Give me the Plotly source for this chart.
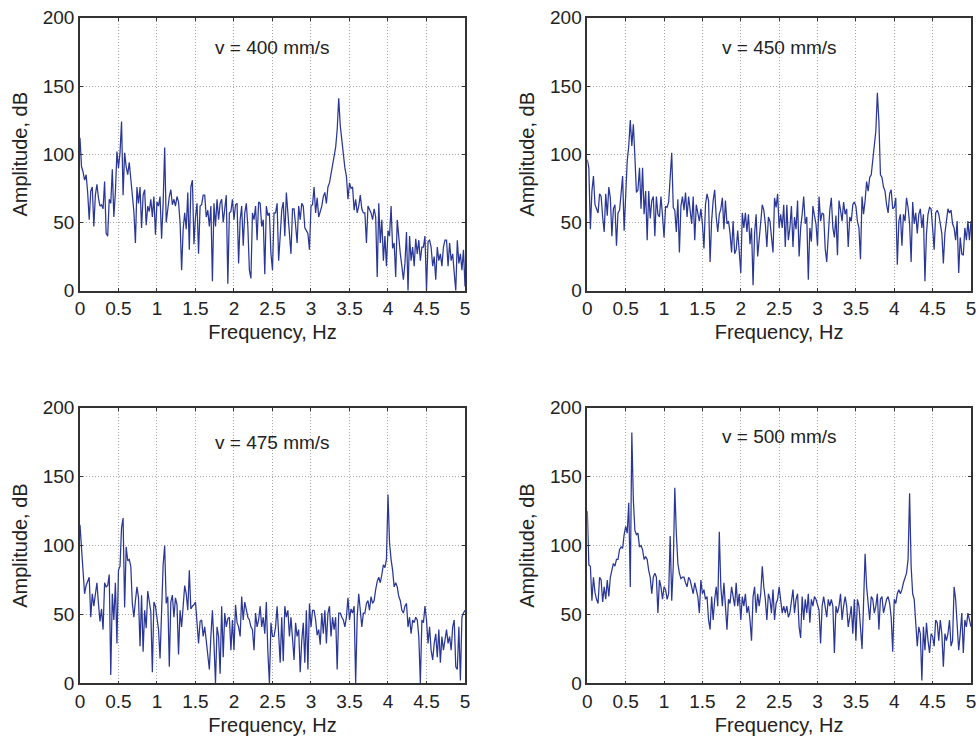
import plotly.graph_objects as go

# Frequency axis (Hz), shared by all four spectra
freq = [
    0.00, 0.02, 0.04, 0.06, 0.08, 0.10, 0.12, 0.14, 0.16, 0.18,
    0.20, 0.22, 0.24, 0.26, 0.28, 0.30, 0.32, 0.34, 0.36, 0.38,
    0.40, 0.42, 0.44, 0.46, 0.48, 0.50, 0.52, 0.54, 0.56, 0.58,
    0.60, 0.62, 0.64, 0.66, 0.68, 0.70, 0.72, 0.74, 0.76, 0.78,
    0.80, 0.82, 0.84, 0.86, 0.88, 0.90, 0.92, 0.94, 0.96, 0.98,
    1.00, 1.02, 1.04, 1.06, 1.08, 1.10, 1.12, 1.14, 1.16, 1.18,
    1.20, 1.22, 1.24, 1.26, 1.28, 1.30, 1.32, 1.34, 1.36, 1.38,
    1.40, 1.42, 1.44, 1.46, 1.48, 1.50, 1.52, 1.54, 1.56, 1.58,
    1.60, 1.62, 1.64, 1.66, 1.68, 1.70, 1.72, 1.74, 1.76, 1.78,
    1.80, 1.82, 1.84, 1.86, 1.88, 1.90, 1.92, 1.94, 1.96, 1.98,
    2.00, 2.02, 2.04, 2.06, 2.08, 2.10, 2.12, 2.14, 2.16, 2.18,
    2.20, 2.22, 2.24, 2.26, 2.28, 2.30, 2.32, 2.34, 2.36, 2.38,
    2.40, 2.42, 2.44, 2.46, 2.48, 2.50, 2.52, 2.54, 2.56, 2.58,
    2.60, 2.62, 2.64, 2.66, 2.68, 2.70, 2.72, 2.74, 2.76, 2.78,
    2.80, 2.82, 2.84, 2.86, 2.88, 2.90, 2.92, 2.94, 2.96, 2.98,
    3.00, 3.02, 3.04, 3.06, 3.08, 3.10, 3.12, 3.14, 3.16, 3.18,
    3.20, 3.22, 3.24, 3.26, 3.28, 3.30, 3.32, 3.34, 3.36, 3.38,
    3.40, 3.42, 3.44, 3.46, 3.48, 3.50, 3.52, 3.54, 3.56, 3.58,
    3.60, 3.62, 3.64, 3.66, 3.68, 3.70, 3.72, 3.74, 3.76, 3.78,
    3.80, 3.82, 3.84, 3.86, 3.88, 3.90, 3.92, 3.94, 3.96, 3.98,
    4.00, 4.02, 4.04, 4.06, 4.08, 4.10, 4.12, 4.14, 4.16, 4.18,
    4.20, 4.22, 4.24, 4.26, 4.28, 4.30, 4.32, 4.34, 4.36, 4.38,
    4.40, 4.42, 4.44, 4.46, 4.48, 4.50, 4.52, 4.54, 4.56, 4.58,
    4.60, 4.62, 4.64, 4.66, 4.68, 4.70, 4.72, 4.74, 4.76, 4.78,
    4.80, 4.82, 4.84, 4.86, 4.88, 4.90, 4.92, 4.94, 4.96, 4.98,
    5.00,
]

# Amplitude (dB)
amp_400 = [
    112, 91, 87, 81, 85, 72, 52, 73, 76, 47,
    70, 78, 68, 62, 63, 60, 80, 42, 40, 67,
    64, 89, 54, 72, 102, 90, 101, 124, 70, 101,
    91, 85, 94, 80, 70, 58, 35, 76, 64, 76,
    46, 70, 74, 48, 62, 58, 67, 54, 69, 41,
    65, 62, 69, 38, 64, 105, 50, 62, 69, 74,
    63, 67, 62, 69, 65, 50, 15, 45, 57, 45,
    72, 30, 76, 81, 34, 54, 64, 27, 62, 63,
    70, 70, 54, 59, 47, 62, 7, 64, 47, 67,
    52, 64, 67, 50, 62, 70, 5, 57, 58, 67,
    52, 63, 64, 20, 52, 62, 33, 57, 64, 47,
    15, 9, 57, 52, 62, 37, 65, 64, 47, 52,
    12, 62, 55, 57, 27, 15, 57, 57, 64, 22,
    40, 59, 65, 40, 72, 55, 40, 27, 60, 60,
    48, 35, 62, 52, 64, 62, 46, 44, 42, 30,
    62, 63, 76, 57, 68, 54, 58, 62, 69, 72,
    64, 76, 79, 85, 91, 97, 105, 118, 141, 121,
    110, 100, 90, 84, 67, 79, 75, 76, 59, 67,
    57, 62, 70, 60, 57, 57, 35, 62, 59, 57,
    52, 60, 54, 10, 64, 35, 52, 22, 40, 18,
    44, 40, 62, 31, 35, 10, 52, 37, 27, 18,
    8, 20, 43, 0, 40, 22, 32, 18, 38, 27,
    37, 22, 32, 32, 40, 0, 36, 37, 32, 18,
    25, 8, 32, 22, 27, 18, 32, 37, 37, 18,
    35, 22, 27, 13, 0, 37, 20, 27, 15, 30, 3,
]

amp_450 = [
    96, 90, 45, 73, 84, 63, 60, 57, 71, 69,
    54, 43, 71, 55, 76, 68, 40, 60, 63, 33,
    57, 59, 71, 84, 44, 69, 95, 106, 125, 106,
    122, 98, 72, 74, 90, 60, 90, 56, 73, 37,
    73, 53, 66, 69, 40, 69, 56, 54, 69, 55,
    39, 62, 61, 65, 85, 101, 61, 59, 43, 67,
    28, 62, 69, 59, 72, 54, 69, 61, 49, 69,
    37, 63, 57, 51, 60, 49, 31, 63, 71, 66,
    21, 51, 66, 74, 54, 43, 56, 60, 68, 45,
    66, 49, 51, 42, 28, 51, 27, 30, 44, 28,
    13, 57, 46, 57, 43, 56, 34, 46, 4, 42,
    56, 25, 37, 54, 63, 59, 49, 32, 54, 51,
    39, 28, 68, 61, 71, 46, 56, 46, 63, 32,
    63, 37, 46, 62, 32, 54, 45, 66, 25, 46,
    56, 69, 49, 54, 8, 46, 36, 62, 55, 49,
    33, 69, 51, 57, 56, 31, 21, 42, 59, 68,
    46, 39, 55, 26, 66, 59, 51, 65, 56, 60,
    32, 54, 51, 63, 65, 62, 51, 46, 23, 69,
    56, 66, 80, 73, 83, 85, 95, 103, 117, 145,
    124, 85, 83, 76, 73, 63, 57, 71, 74, 60,
    61, 68, 19, 51, 56, 33, 56, 51, 68, 61,
    49, 21, 65, 49, 57, 42, 56, 60, 46, 56,
    7, 42, 56, 61, 60, 46, 30, 57, 59, 56,
    49, 42, 20, 42, 51, 60, 57, 59, 49, 46,
    37, 51, 13, 39, 27, 26, 46, 37, 51, 37, 51,
]

amp_475 = [
    115, 97, 82, 65, 71, 75, 77, 48, 65, 56,
    63, 73, 58, 45, 54, 39, 73, 70, 71, 79,
    6, 65, 46, 73, 29, 82, 85, 113, 120, 55,
    99, 89, 90, 85, 58, 48, 60, 70, 62, 27,
    64, 23, 53, 40, 67, 60, 52, 8, 59, 56,
    48, 39, 18, 60, 86, 100, 58, 63, 12, 59,
    64, 48, 62, 57, 21, 53, 41, 56, 71, 65,
    53, 82, 54, 56, 57, 59, 44, 29, 45, 46,
    34, 41, 31, 22, 10, 34, 53, 29, 0, 41,
    34, 7, 56, 19, 51, 41, 47, 48, 24, 46,
    24, 57, 44, 41, 34, 63, 46, 59, 53, 48,
    46, 41, 39, 24, 51, 41, 46, 56, 41, 48,
    36, 59, 23, 0, 44, 34, 34, 41, 56, 39,
    15, 48, 16, 56, 48, 53, 34, 48, 29, 17,
    44, 34, 39, 8, 31, 44, 15, 53, 10, 58,
    41, 53, 53, 46, 35, 39, 28, 51, 36, 53,
    29, 51, 56, 34, 48, 39, 48, 10, 51, 51,
    48, 46, 41, 48, 62, 46, 54, 51, 56, 0,
    48, 65, 53, 41, 51, 51, 58, 60, 53, 63,
    58, 60, 68, 74, 77, 73, 79, 86, 84, 90,
    137, 102, 90, 82, 70, 73, 70, 63, 60, 53,
    51, 56, 58, 41, 48, 36, 46, 44, 48, 46,
    34, 0, 46, 44, 56, 46, 29, 41, 24, 17,
    29, 36, 19, 39, 15, 34, 24, 31, 39, 29,
    34, 24, 41, 46, 12, 10, 41, 2, 48, 51, 53,
]

amp_500 = [
    125, 86, 85, 60, 77, 66, 61, 58, 77, 75,
    59, 70, 61, 75, 63, 77, 82, 87, 85, 90,
    90, 97, 99, 98, 108, 114, 109, 131, 70, 182,
    133, 111, 108, 109, 99, 100, 97, 90, 92, 90,
    82, 77, 65, 77, 80, 77, 51, 75, 70, 61,
    70, 68, 61, 65, 107, 60, 85, 142, 109, 87,
    80, 76, 77, 77, 73, 70, 77, 75, 70, 65,
    73, 68, 63, 51, 75, 65, 68, 61, 63, 46,
    39, 63, 46, 61, 70, 56, 110, 70, 56, 73,
    56, 39, 61, 58, 70, 61, 56, 73, 56, 65,
    46, 63, 56, 65, 51, 56, 46, 31, 63, 70,
    51, 65, 56, 65, 85, 70, 61, 46, 65, 61,
    51, 68, 46, 58, 61, 70, 61, 51, 56, 51,
    56, 48, 51, 61, 68, 51, 61, 65, 41, 33,
    63, 46, 61, 51, 65, 44, 61, 56, 63, 61,
    56, 53, 29, 56, 63, 56, 48, 61, 56, 61,
    56, 22, 56, 51, 56, 65, 46, 56, 63, 56,
    41, 48, 56, 36, 61, 31, 61, 56, 41, 25,
    58, 94, 70, 56, 46, 63, 61, 51, 56, 65,
    39, 61, 63, 51, 56, 61, 63, 58, 48, 23,
    61, 58, 65, 68, 65, 68, 73, 77, 80, 90,
    138, 85, 65, 61, 40, 27, 41, 36, 2, 41,
    24, 44, 31, 22, 36, 34, 27, 46, 44, 31,
    46, 36, 12, 36, 31, 36, 46, 27, 31, 70,
    61, 41, 24, 36, 51, 22, 46, 41, 51, 46, 41,
]

labels = ["v = 400 mm/s", "v = 450 mm/s", "v = 475 mm/s", "v = 500 mm/s"]
x_tickvals = [0, 0.5, 1, 1.5, 2, 2.5, 3, 3.5, 4, 4.5, 5]
x_ticktext = ["0", "0.5", "1", "1.5", "2", "2.5", "3", "3.5", "4", "4.5", "5"]
y_tickvals = [0, 50, 100, 150, 200]
y_ticktext = ["0", "50", "100", "150", "200"]
x_title = "Frequency, Hz"
y_title = "Amplitude, dB"

series = [amp_400, amp_450, amp_475, amp_500]
label_pos = [(2.5, 178), (2.5, 178), (2.5, 175), (2.5, 179)]

x_domains = [[0.0816, 0.4745], [0.5993, 0.9908], [0.0816, 0.4745], [0.5993, 0.9908]]
y_domains = [[0.6072, 0.9759], [0.6072, 0.9759], [0.0766, 0.4489], [0.0766, 0.4489]]

LINE_COLOR = "#2a3796"
TEXT_COLOR = "#222222"
FONT = "Liberation Sans, Arial, sans-serif"

fig = go.Figure()
layout = dict(
    width=980, height=740,
    margin=dict(l=0, r=0, t=0, b=0),
    paper_bgcolor="white", plot_bgcolor="white",
    showlegend=False,
    font=dict(family=FONT, size=19, color=TEXT_COLOR),
    annotations=[],
)

for k in range(4):
    n = "" if k == 0 else str(k + 1)
    fig.add_trace(go.Scatter(
        x=freq, y=series[k], mode="lines",
        line=dict(color=LINE_COLOR, width=1.25),
        xaxis="x" + n, yaxis="y" + n,
        hoverinfo="skip",
    ))
    common = dict(
        showline=True, linecolor="#333333", linewidth=1.5, mirror="ticks",
        ticks="inside", ticklen=3, tickcolor="#333333", tickwidth=1,
        showgrid=True, gridcolor="#a8a8a8", griddash="1px,2px", gridwidth=1,
        zeroline=False, automargin=False,
        tickfont=dict(family=FONT, size=19, color=TEXT_COLOR),
    )
    layout["xaxis" + n] = dict(
        common, domain=x_domains[k], anchor="y" + n, range=[0, 5],
        tickmode="array", tickvals=x_tickvals, ticktext=x_ticktext,
        title=dict(text=x_title, standoff=7, font=dict(family=FONT, size=20, color=TEXT_COLOR)),
    )
    layout["yaxis" + n] = dict(
        common, domain=y_domains[k], anchor="x" + n, range=[0, 200],
        tickmode="array", tickvals=y_tickvals, ticktext=y_ticktext,
        title=dict(text=y_title, standoff=10, font=dict(family=FONT, size=20, color=TEXT_COLOR)),
    )
    layout["annotations"].append(dict(
        x=label_pos[k][0], y=label_pos[k][1], xref="x" + n, yref="y" + n,
        text=labels[k], showarrow=False, xanchor="center", yanchor="middle",
        font=dict(family=FONT, size=19, color=TEXT_COLOR),
    ))

fig.update_layout(**layout)
fig.write_html("out.html")
